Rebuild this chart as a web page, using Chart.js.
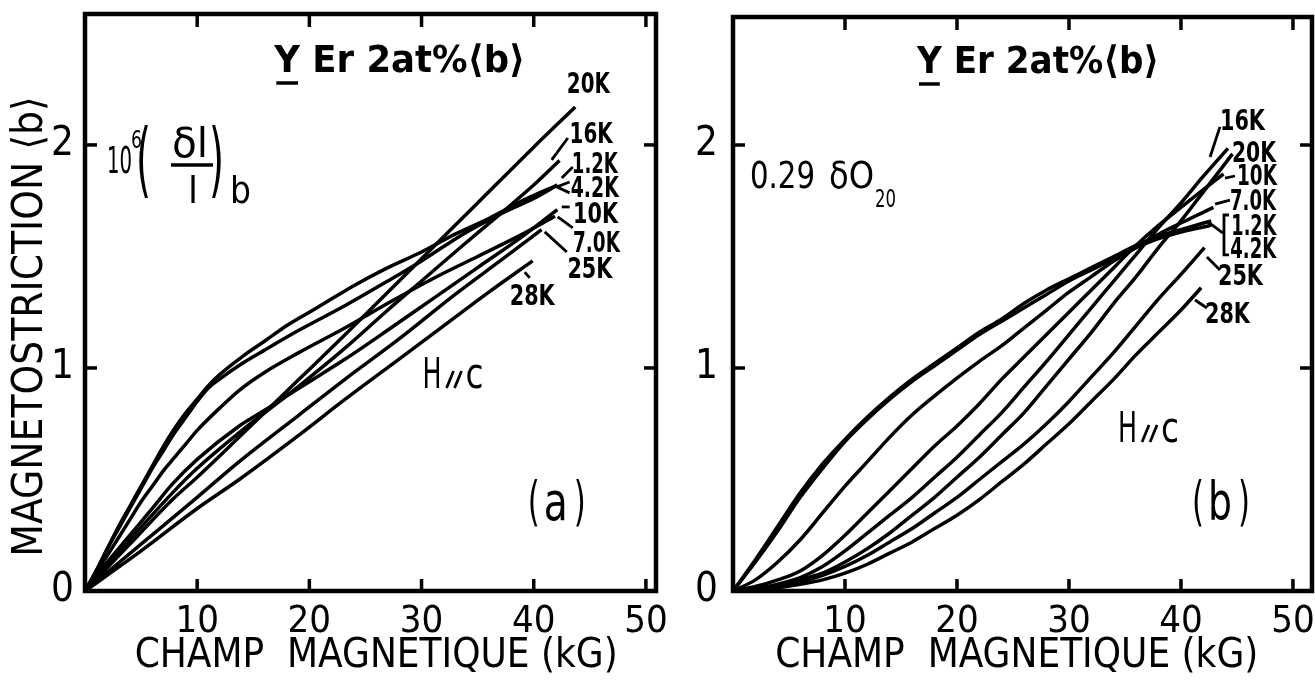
<!DOCTYPE html>
<html><head><meta charset="utf-8">
<script src="https://cdn.jsdelivr.net/npm/chart.js@4.4.0/dist/chart.umd.min.js"></script>
<style>
html,body{margin:0;padding:0;background:#fff;width:1315px;height:680px;overflow:hidden}
#ca{position:absolute;left:0;top:0}
#cb{position:absolute;left:660px;top:0}
</style></head><body>
<canvas id="ca" width="700" height="680"></canvas>
<canvas id="cb" width="655" height="680"></canvas>
<script>
// ---------- axis ticks ----------
const xTicks = [10, 20, 30, 40, 50];
const xTickLabels = ['10', '20', '30', '40', '50'];
const yTicks = [0, 1, 2];
const yTickLabels = ['0', '1', '2'];
const xTitle = 'CHAMP  MAGNETIQUE (kG)';
const yTitle = 'MAGNETOSTRICTION \u27E8b\u27E9';

// ---------- panel (a) : 10^6 (dl/l)_b ----------
const a_names = ['1.2K', '4.2K', '7.0K', '10K', '16K', '20K', '25K', '28K'];
const a_12_x = [0,1,2,3,4,5,6,7,8,9,10,11,12,14,16,18,20,22,24,27,30,33,36,39,42.1];
const a_12_y = [0,0.09,0.19,0.29,0.38,0.47,0.56,0.65,0.73,0.80,0.86,0.92,0.97,1.05,1.12,1.19,1.25,1.31,1.37,1.45,1.52,1.60,1.67,1.75,1.82];
const a_42_x = [0,1,2,3,4,5,6,7,8,9,10,11,12,14,16,19.1,23.2,27,30,33.7,37,40,42.1];
const a_42_y = [0,0.09,0.19,0.28,0.37,0.46,0.55,0.63,0.71,0.78,0.85,0.91,0.95,1.02,1.08,1.17,1.28,1.39,1.48,1.60,1.69,1.76,1.82];
const a_70_x = [0,1,2,3,4,5,6,7,8,9,10,12,13.75,16,19.1,23.2,27,31,35,39,41.9];
const a_70_y = [0,0.08,0.16,0.24,0.32,0.40,0.47,0.54,0.60,0.66,0.72,0.82,0.90,0.98,1.07,1.18,1.29,1.40,1.50,1.60,1.68];
const a_10_x = [0,2,4,6,7.8,10,13.75,16,19.1,23.2,27,31,35,39,42.1];
const a_10_y = [0,0.13,0.25,0.37,0.48,0.59,0.74,0.81,0.91,1.04,1.17,1.31,1.45,1.59,1.71];
const a_16_x = [0,2,4,7.8,10,13.75,19.1,23.2,27,30,33.7,37,40,42.3];
const a_16_y = [0,0.12,0.23,0.44,0.55,0.71,0.92,1.09,1.26,1.39,1.55,1.69,1.82,1.93];
const a_20_x = [0,4,7.8,10,13.75,19.1,23.2,29.8,35,40,43.7];
const a_20_y = [0,0.21,0.41,0.51,0.69,0.95,1.15,1.48,1.74,1.99,2.17];
const a_25_x = [0,5,10,13.75,19.1,23.2,28,33,37,40.7];
const a_25_y = [0,0.21,0.42,0.58,0.79,0.95,1.13,1.33,1.48,1.62];
const a_28_x = [0,5,10,13.75,19.1,23.2,28,32,36,39.9];
const a_28_y = [0,0.18,0.37,0.50,0.70,0.86,1.04,1.19,1.34,1.48];

// ---------- panel (b) : 0.29 dO20 ----------
const b_names = ['1.2K', '4.2K', '7.0K', '10K', '16K', '20K', '25K', '28K'];
const b_12_x = [0,2,4,6,8,10,12,14,16,18,20,22,24,26,28,30,32,34,36,38,40,42.7];
const b_12_y = [0,0.14,0.29,0.44,0.57,0.68,0.78,0.87,0.95,1.02,1.09,1.16,1.22,1.29,1.35,1.40,1.45,1.50,1.55,1.59,1.62,1.66];
const b_42_x = [0,2,4,6,8,10,12,14,16,18,20,22,24,26,28,30,32,34,36,38,40,42.7];
const b_42_y = [0,0.13,0.27,0.42,0.55,0.67,0.77,0.86,0.94,1.01,1.08,1.15,1.21,1.27,1.33,1.39,1.44,1.49,1.54,1.58,1.61,1.64];
const b_70_x = [0,2,4,6,8,10,12,14,16,18,20,22,24,26,28,30,32,34,36,38,40,42.9];
const b_70_y = [0,0.05,0.13,0.23,0.35,0.47,0.58,0.69,0.79,0.875,0.955,1.03,1.10,1.18,1.26,1.34,1.41,1.48,1.54,1.60,1.65,1.72];
const b_10_x = [0,2,4,6,8,10,12,14,16,18,20,22,24,26,28,30,32,34,36,38,40,42,43.8];
const b_10_y = [0,0.02,0.05,0.09,0.16,0.25,0.35,0.45,0.55,0.65,0.74,0.84,0.95,1.05,1.15,1.25,1.35,1.45,1.55,1.64,1.72,1.80,1.87];
const b_16_x = [0,2,4,6,8,10,12,14,16,18,20,22,24,26,28,30,32,34,36,38,40,42,44.2];
const b_16_y = [0,0.01,0.03,0.06,0.11,0.18,0.26,0.34,0.42,0.51,0.60,0.70,0.80,0.915,1.03,1.15,1.27,1.39,1.51,1.63,1.74,1.86,1.985];
const b_20_x = [0,2,4,6,8,10,12,14,16,18,20,22,24,26,28,30,32,34,36,38,40,42,44.6];
const b_20_y = [0,0.01,0.02,0.05,0.08,0.13,0.19,0.26,0.34,0.42,0.51,0.60,0.70,0.80,0.92,1.04,1.16,1.29,1.41,1.54,1.66,1.79,1.96];
const b_25_x = [0,2,4,6,8,10,12,14,16,18,20,22,24,26,28,30,32,34,36,38,40,42.1];
const b_25_y = [0,0.005,0.02,0.04,0.07,0.11,0.16,0.22,0.28,0.35,0.42,0.50,0.58,0.66,0.75,0.85,0.96,1.07,1.19,1.31,1.42,1.54];
const b_28_x = [0,2,4,6,8,10,12,14,16,18,20,22,24,26,28,30,32,34,36,38,40,41.8];
const b_28_y = [0,0.004,0.015,0.03,0.05,0.08,0.12,0.17,0.22,0.28,0.34,0.41,0.49,0.57,0.66,0.75,0.85,0.95,1.06,1.16,1.26,1.36];

const FONT = '"DejaVu Sans Condensed", "DejaVu Sans", sans-serif';
const fnt = (s, b) => (b ? 'bold ' : '') + s + 'px ' + FONT;

function txt(ctx, s, px, py, size, w, bold) {
  ctx.font = fnt(size, bold);
  ctx.textAlign = 'left';
  ctx.textBaseline = 'alphabetic';
  const m = ctx.measureText(s).width;
  if (w) {
    ctx.save(); ctx.translate(px, py); ctx.scale(w / m, 1); ctx.fillText(s, 0, 0); ctx.restore();
    return w;
  }
  ctx.fillText(s, px, py);
  return m;
}
function seg(ctx, x1, y1, x2, y2) { ctx.beginPath(); ctx.moveTo(x1, y1); ctx.lineTo(x2, y2); ctx.stroke(); }

function decoPlugin(cfg) {
  return {
    id: 'deco_' + cfg.id,
    afterDraw(chart) {
      const ctx = chart.ctx, ca = chart.chartArea, xs = chart.scales.x, ys = chart.scales.y;
      const P = (a, b) => [xs.getPixelForValue(a), ys.getPixelForValue(b)];
      ctx.save();
      ctx.strokeStyle = '#000'; ctx.fillStyle = '#000'; ctx.lineCap = 'butt';
      // frame
      ctx.lineWidth = 4.5;
      ctx.strokeRect(ca.left, ca.top, ca.right - ca.left, ca.bottom - ca.top);
      // inward tick marks
      ctx.lineWidth = 3.5;
      xTicks.forEach(v => { const p = xs.getPixelForValue(v); seg(ctx, p, ca.bottom, p, ca.bottom - 12); seg(ctx, p, ca.top, p, ca.top + 13); });
      yTicks.filter(v => v > 0).forEach(v => { const p = ys.getPixelForValue(v); seg(ctx, ca.left, p, ca.left + 12, p); seg(ctx, ca.right, p, ca.right - 12, p); });
      // leaders
      ctx.lineWidth = 2.8;
      cfg.leaders.forEach(l => { const a = P(l[0], l[1]), b = P(l[2], l[3]); seg(ctx, a[0], a[1], b[0], b[1]); });
      cfg.polys.forEach(pl => { ctx.beginPath(); pl.forEach((q, i) => { const p = P(q[0], q[1]); if (i) ctx.lineTo(p[0], p[1]); else ctx.moveTo(p[0], p[1]); }); ctx.stroke(); });
      // curve labels
      cfg.labels.forEach(l => { const p = P(l[1], l[2]); txt(ctx, l[0], p[0], p[1], 28, l[3], true); });
      // sample title
      {
        const p = P(cfg.title[0], cfg.title[1]);
        ctx.font = fnt(38, true);
        const full = 'Y Er 2at%\u27E8b\u27E9';
        const m = ctx.measureText(full).width, k = cfg.title[2] / m;
        const yw = ctx.measureText('Y').width * k;
        txt(ctx, full, p[0], p[1], 38, cfg.title[2], true);
        ctx.lineWidth = 3.5; seg(ctx, p[0] + 2, p[1] + 11, p[0] + yw - 2, p[1] + 11);
      }
      // formula
      cfg.formula(ctx, P(cfg.fpos[0], cfg.fpos[1]));
      // H // c
      {
        const p = P(cfg.hc[0], cfg.hc[1]);
        txt(ctx, 'H', p[0], p[1], 43, 19);
        ctx.lineWidth = 2.8;
        seg(ctx, p[0] + 24, p[1], p[0] + 31, p[1] - 17);
        seg(ctx, p[0] + 32, p[1], p[0] + 39, p[1] - 17);
        txt(ctx, 'c', p[0] + 43, p[1], 43, 18);
      }
      // panel tag
      {
        const p = P(cfg.tag[0], cfg.tag[1]);
        txt(ctx, '(', p[0], p[1], 54, 12);
        txt(ctx, cfg.tag[2], p[0] + 16, p[1], 54, 24);
        txt(ctx, ')', p[0] + 46, p[1], 54, 12);
      }
      ctx.restore();
    }
  };
}

function mk(names, pairs) {
  return pairs.map((pr, i) => ({
    label: names[i],
    data: pr[0].map((v, j) => ({ x: v, y: pr[1][j] })),
    borderColor: '#000', borderWidth: 3.5, pointRadius: 0, fill: false,
    cubicInterpolationMode: 'monotone'
  }));
}

function build(id, cfg, datasets) {
  return new Chart(document.getElementById(id), {
    type: 'line',
    data: { datasets },
    options: {
      responsive: false, animation: false, devicePixelRatio: 1,
      layout: { padding: { top: cfg.top, right: cfg.right, left: 0, bottom: 0 } },
      plugins: { legend: { display: false }, tooltip: { enabled: false } },
      scales: {
        x: {
          type: 'linear', min: 0, max: cfg.xmax,
          afterBuildTicks: s => { s.ticks = xTicks.map(v => ({ value: v })); },
          afterFit: s => { s.height = cfg.bottomH; s.paddingLeft = 0; s.paddingRight = 0; },
          grid: { display: false }, border: { display: false },
          ticks: { padding: 0, color: '#000', font: { family: FONT, size: 38 }, maxRotation: 0, autoSkip: false,
                   callback: v => xTickLabels[xTicks.indexOf(v)] },
          title: { display: true, text: cfg.xtitle, color: '#000', font: { family: FONT, size: 40, lineHeight: 1 }, padding: { top: 0, bottom: 3 } }
        },
        y: {
          type: 'linear', min: 0, max: cfg.ymax,
          afterBuildTicks: s => { s.ticks = yTicks.map(v => ({ value: v })); },
          afterFit: s => { s.width = cfg.left; s.paddingTop = 0; s.paddingBottom = 0; },
          grid: { display: false }, border: { display: false },
          ticks: { padding: cfg.ypad, color: '#000', font: { family: FONT, size: 40 },
                   callback: v => yTickLabels[yTicks.indexOf(v)] },
          title: cfg.ytitle ? { display: true, text: cfg.ytitle, color: '#000', font: { family: FONT, size: 42, lineHeight: 1 }, padding: { top: 10, bottom: 0 } } : { display: false }
        }
      }
    },
    plugins: [decoPlugin(cfg)]
  });
}

const cfgA = {
  id: 'a', top: 14, right: 44, left: 85, bottomH: 89, xmax: 50.9, ymax: 2.587, ypad: 3,
  xtitle: ' ' + xTitle, ytitle: yTitle + '    ',
  labels: [['20K', 42.95, 2.233, 43], ['16K', 43.2, 2.009, 43], ['1.2K', 43.4, 1.874, 46], ['4.2K', 43.3, 1.767, 48],
           ['10K', 43.5, 1.650, 45], ['7.0K', 43.5, 1.520, 47], ['25K', 43.0, 1.404, 45], ['28K', 37.86, 1.283, 45]],
  leaders: [[41.6, 1.933, 43.04, 2.031], [42.5, 1.852, 43.48, 1.901], [42.5, 1.722, 43.2, 1.722],
            [42.14, 1.677, 43.48, 1.628], [40.98, 1.610, 42.95, 1.520], [39.2, 1.430, 39.64, 1.404]],
  polys: [[[43.2, 1.834], [42.05, 1.812], [43.2, 1.785]]],
  title: [16.875, 2.327, 251],
  fpos: [1.96, 1.874],
  formula: (ctx, p) => {
    const [x, y] = p;
    txt(ctx, '10', x, y, 38, 25);
    txt(ctx, '6', x + 24, y - 25, 25, 11);
    txt(ctx, '(', x + 29, y + 14, 82, 15);
    txt(ctx, '\u03B4l', x + 65, y - 16, 40, 36);
    ctx.lineWidth = 3.5; seg(ctx, x + 64, y - 8, x + 106, y - 8);
    txt(ctx, 'l', x + 81, y + 30, 38, 10);
    txt(ctx, ')', x + 102, y + 14, 82, 15);
    txt(ctx, 'b', x + 123, y + 30, 38, 21);
  },
  hc: [30.09, 0.910],
  tag: [39.46, 0.318, 'a']
};

const cfgB = {
  id: 'b', top: 17, right: 3, left: 73, bottomH: 89, xmax: 51.7, ymax: 2.574, ypad: 7,
  xtitle: xTitle + ' ', ytitle: null,
  labels: [['16K', 43.48, 2.067, 45], ['20K', 44.55, 1.924, 44], ['10K', 45.0, 1.821, 40], ['7.0K', 44.375, 1.709, 46],
           ['1.2K', 44.5, 1.596, 45], ['4.2K', 44.4, 1.493, 46], ['25K', 43.3, 1.372, 45], ['28K', 42.14, 1.202, 45]],
  leaders: [[42.6, 1.946, 43.48, 2.081], [43.93, 1.852, 44.82, 1.861], [43.04, 1.735, 44.375, 1.753],
            [42.41, 1.655, 43.75, 1.605], [42.32, 1.498, 43.48, 1.439], [41.25, 1.305, 42.32, 1.269]],
  polys: [[[44.29, 1.686], [43.84, 1.686], [43.84, 1.507], [44.29, 1.507]]],
  title: [16.43, 2.323, 242],
  fpos: [1.52, 1.807],
  formula: (ctx, p) => {
    const [x, y] = p;
    txt(ctx, '0.29', x, y, 38, 65);
    txt(ctx, '\u03B4O', x + 79, y, 38, 45);
    txt(ctx, '20', x + 125, y + 19, 25, 21);
  },
  hc: [34.38, 0.668],
  tag: [40.98, 0.318, 'b']
};

build('ca', cfgA, mk(a_names, [[a_12_x, a_12_y], [a_42_x, a_42_y], [a_70_x, a_70_y], [a_10_x, a_10_y],
                               [a_16_x, a_16_y], [a_20_x, a_20_y], [a_25_x, a_25_y], [a_28_x, a_28_y]]));
build('cb', cfgB, mk(b_names, [[b_12_x, b_12_y], [b_42_x, b_42_y], [b_70_x, b_70_y], [b_10_x, b_10_y],
                               [b_16_x, b_16_y], [b_20_x, b_20_y], [b_25_x, b_25_y], [b_28_x, b_28_y]]));
</script>
</body></html>
